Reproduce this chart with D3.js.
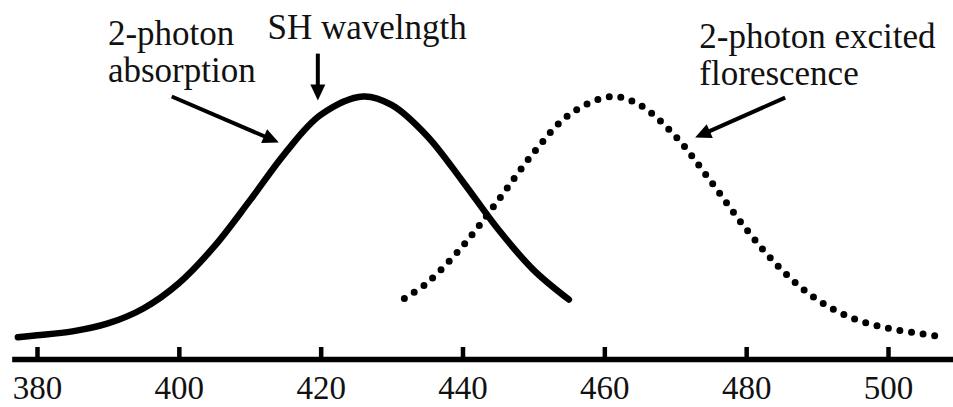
<!DOCTYPE html>
<html>
<head>
<meta charset="utf-8">
<script src="https://cdn.jsdelivr.net/npm/d3@7"></script>
<style>
  html, body { margin: 0; padding: 0; background: #fff; }
  svg { display: block; }
  text { font-family: "Times New Roman", Times, "Liberation Serif", "DejaVu Serif", serif; fill: #111; }
</style>
</head>
<body>
<svg class="svg-canvas" width="953" height="407"></svg>
<script>
// tick labels along the wavelength axis (nm)
const tickValues = [380, 400, 420, 440, 460, 480, 500];

// 2-photon absorption (solid) : wavelength, relative intensity
const absorptionWl  = [377.3, 380, 385, 390, 395, 400, 405, 410, 415, 420, 426, 430, 435, 440, 445, 450, 455];
const absorptionVal = [0.085, 0.092, 0.107, 0.137, 0.194, 0.290, 0.430, 0.604, 0.785, 0.930, 1.0, 0.968, 0.850, 0.678, 0.496, 0.341, 0.228];

// 2-photon excited florescence (dotted)
const florescenceWl  = [431.8, 435, 440, 445, 450, 455, 461, 465, 470, 475, 480, 485, 490, 495, 500, 505, 508];
const florescenceVal = [0.232, 0.291, 0.430, 0.604, 0.785, 0.930, 1.0, 0.968, 0.850, 0.678, 0.496, 0.341, 0.228, 0.157, 0.119, 0.097, 0.084];

// annotations, in data units [wavelength, intensity]
const labels = [
  { lines: ["2-photon", "absorption"], at: [390.0, 1.194] },
  { lines: ["SH wavelngth"], at: [412.5, 1.217] },
  { lines: ["2-photon excited", "florescence"], at: [473.4, 1.186] }
];
const arrows = [
  { from: [399.0, 1.0],   to: [414.1, 0.825] },
  { from: [419.6, 1.163], to: [419.6, 0.985] },
  { from: [485.5, 0.996], to: [472.8, 0.844] }
];

const svg = d3.select('.svg-canvas');
const fontStack = '"Times New Roman", Times, "Liberation Serif", "DejaVu Serif", serif';

const x = d3.scaleLinear().domain([380, 500]).range([37, 888]);
const y = d3.scaleLinear().domain([0, 1]).range([359.5, 96.5]);

// axis
const axisGroup = svg.append('g')
  .attr('transform', `translate(0, ${y(0)})`);

axisGroup.append('line')
  .attr('x1', x(376.5))
  .attr('x2', x(520))
  .attr('stroke', '#000')
  .attr('stroke-width', 5.5);

const xAxis = d3.axisBottom(x)
  .tickValues(tickValues)
  .tickSize(-12.5)
  .tickSizeOuter(0)
  .tickFormat(d3.format('d'));

axisGroup.call(xAxis);
axisGroup.select('.domain').remove();
axisGroup.selectAll('.tick line')
  .attr('stroke', '#000')
  .attr('stroke-width', 4.5);
axisGroup.selectAll('.tick text')
  .attr('y', 39.5)
  .attr('dy', null)
  .attr('fill', '#111')
  .attr('font-family', fontStack)
  .attr('font-size', 33);

// curves
const line = d3.line()
  .x(d => x(d[0]))
  .y(d => y(d[1]))
  .curve(d3.curveCatmullRom.alpha(0.5));

svg.append('path')
  .datum(d3.zip(absorptionWl, absorptionVal))
  .attr('d', line)
  .attr('fill', 'none')
  .attr('stroke', '#000')
  .attr('stroke-width', 6.5)
  .attr('stroke-linecap', 'round');

svg.append('path')
  .datum(d3.zip(florescenceWl, florescenceVal))
  .attr('d', line)
  .attr('fill', 'none')
  .attr('stroke', '#000')
  .attr('stroke-width', 7)
  .attr('stroke-linecap', 'round')
  .attr('stroke-dasharray', '0 11.7');

// labels
labels.forEach(l => {
  const t = svg.append('text')
    .attr('x', x(l.at[0]))
    .attr('y', y(l.at[1]))
    .attr('font-family', fontStack)
    .attr('font-size', 35);
  l.lines.forEach((s, i) => {
    t.append('tspan')
      .attr('x', x(l.at[0]))
      .attr('dy', i === 0 ? 0 : 37)
      .text(s);
  });
});

// arrows: shaft + filled head
arrows.forEach(a => {
  const x1 = x(a.from[0]), y1 = y(a.from[1]);
  const x2 = x(a.to[0]), y2 = y(a.to[1]);
  const ang = Math.atan2(y2 - y1, x2 - x1);
  const headLen = 16, headHalf = 7.5;
  svg.append('line')
    .attr('x1', x1).attr('y1', y1)
    .attr('x2', x2 - Math.cos(ang) * (headLen - 2))
    .attr('y2', y2 - Math.sin(ang) * (headLen - 2))
    .attr('stroke', '#000')
    .attr('stroke-width', 4);
  const bx = x2 - Math.cos(ang) * headLen, by = y2 - Math.sin(ang) * headLen;
  const px = -Math.sin(ang) * headHalf, py = Math.cos(ang) * headHalf;
  svg.append('path')
    .attr('d', `M${x2},${y2}L${bx + px},${by + py}L${bx - px},${by - py}Z`)
    .attr('fill', '#000');
});
</script>
</body>
</html>
